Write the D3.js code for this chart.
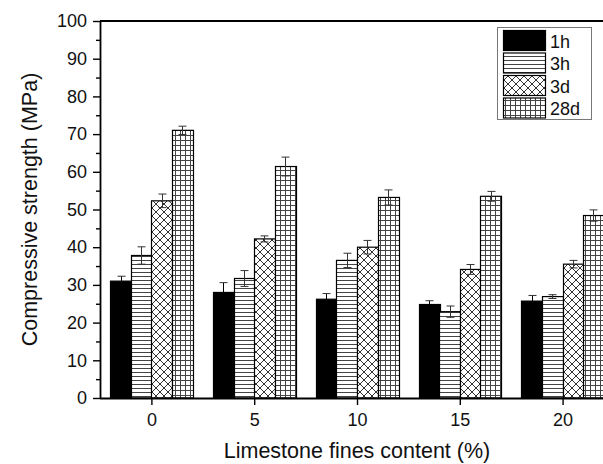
<!DOCTYPE html>
<html><head><meta charset="utf-8">
<script src="https://cdn.jsdelivr.net/npm/d3@7"></script>
<style>
html,body{margin:0;padding:0;background:#fff;}
svg{display:block;font-family:"Liberation Sans",Arial,sans-serif;}
</style></head>
<body>
<svg id="c" width="603" height="464"></svg>
<script>
const categories = [0, 5, 10, 15, 20];
const series = ["1h", "3h", "3d", "28d"];
const values1h  = [31.0, 28.0, 26.2, 24.8, 25.7];
const values3h  = [37.8, 31.7, 36.5, 22.9, 26.9];
const values3d  = [52.3, 42.2, 40.0, 34.1, 35.5];
const values28d = [71.0, 61.4, 53.2, 53.5, 48.4];
const err1h  = [1.3, 2.6, 1.5, 1.0, 1.5];
const err3h  = [2.3, 2.1, 1.9, 1.5, 0.5];
const err3d  = [1.8, 0.8, 1.8, 1.3, 1.0];
const err28d = [1.1, 2.5, 2.0, 1.3, 1.5];
const yTicks = [0,10,20,30,40,50,60,70,80,90,100];
const xTitle = "Limestone fines content (%)";
const yTitle = "Compressive strength (MPa)";

(function(){
const seriesValues = [values1h, values3h, values3d, values28d];
const seriesErr = [err1h, err3h, err3d, err28d];
const fills = ["#000", "url(#pH)", "url(#pX)", "url(#pG)"];

const svg = d3.select("#c");
const mL = 100, mR = 614, mT = 21, mB = 398;

const x = d3.scaleLinear().domain([-2.5, 22.5]).range([mL, mR]);
const y = d3.scaleLinear().domain([0, 100]).range([mB, mT]);
const unit = x(1) - x(0);
const sub = d3.scaleBand().domain(series).range([-2 * unit, 2 * unit]).padding(0);

// patterns
const defs = svg.append("defs");
const pH = defs.append("pattern").attr("id","pH").attr("patternUnits","userSpaceOnUse")
  .attr("width",4).attr("height",4);
pH.append("rect").attr("width",4).attr("height",4).attr("fill","#fff");
pH.append("line").attr("x1",0).attr("x2",4).attr("y1",0.5).attr("y2",0.5)
  .attr("stroke","#444").attr("stroke-width",1);

const pX = defs.append("pattern").attr("id","pX").attr("patternUnits","userSpaceOnUse")
  .attr("width",8).attr("height",8);
pX.append("rect").attr("width",8).attr("height",8).attr("fill","#fff");
pX.append("path").attr("d","M-1,-1L9,9M9,-1L-1,9")
  .attr("stroke","#333").attr("stroke-width",1).attr("fill","none");

const pG = defs.append("pattern").attr("id","pG").attr("patternUnits","userSpaceOnUse")
  .attr("width",5).attr("height",5);
pG.append("rect").attr("width",5).attr("height",5).attr("fill","#fff");
pG.append("path").attr("d","M0,0.5H5M0.5,0V5")
  .attr("stroke","#444").attr("stroke-width",1).attr("fill","none");

// bars
const g = svg.append("g");
series.forEach((s, si) => {
  const data = categories.map((c, ci) => ({c, v: seriesValues[si][ci], e: seriesErr[si][ci]}));
  g.selectAll(null).data(data).enter().append("rect")
    .attr("x", d => Math.round(x(d.c) + sub(s)) + 0.5)
    .attr("y", d => y(d.v))
    .attr("width", Math.round(sub.bandwidth()))
    .attr("height", d => y(0) - y(d.v))
    .attr("fill", fills[si])
    .attr("stroke", "#000").attr("stroke-width", 1.2);
  const eg = g.selectAll(null).data(data).enter().append("g")
    .attr("transform", d => `translate(${Math.round(x(d.c) + sub(s) + sub.bandwidth()/2) + 0.5},0)`);
  eg.append("line").attr("x1",0).attr("x2",0)
    .attr("y1", d => y(d.v + d.e)).attr("y2", d => y(d.v - d.e))
    .attr("stroke", si === 0 ? "#000" : "#333").attr("stroke-width",1);
  eg.append("line").attr("x1",-4).attr("x2",4)
    .attr("y1", d => y(d.v + d.e)).attr("y2", d => y(d.v + d.e))
    .attr("stroke","#333").attr("stroke-width",1);
  eg.append("line").attr("x1",-4).attr("x2",4)
    .attr("y1", d => y(d.v - d.e)).attr("y2", d => y(d.v - d.e))
    .attr("stroke", si === 0 ? "#000" : "#333").attr("stroke-width",1);
});

// axes
const yAxis = svg.append("g").attr("transform",`translate(${mL},0)`)
  .call(d3.axisLeft(y).tickValues(yTicks).tickSize(7).tickPadding(6).tickFormat(d3.format("d")));
const yMinor = svg.append("g").attr("transform",`translate(${mL},0)`)
  .call(d3.axisLeft(y).tickValues(yTicks.slice(0,-1).map(t => t + 5)).tickSize(4).tickFormat(""));
yMinor.select(".domain").remove();
const xAxis = svg.append("g").attr("transform",`translate(0,${mB})`)
  .call(d3.axisBottom(x).tickValues(categories).tickSize(7).tickPadding(8).tickFormat(d3.format("d")));
[yAxis, xAxis, yMinor].forEach(a => {
  a.selectAll("line").attr("stroke","#000").attr("stroke-width",1.4);
  a.selectAll(".domain").attr("stroke","#000").attr("stroke-width",1.8);
  a.selectAll("text").attr("font-size",18).attr("fill","#111")
    .attr("font-family","'Liberation Sans',Arial,sans-serif");
});
xAxis.select(".domain").attr("d", `M${mL},0.5H${mR}`);
yAxis.select(".domain").attr("d", `M0.5,${mB}V${mT}`);
svg.append("line").attr("x1", mL).attr("x2", mR).attr("y1", mT).attr("y2", mT)
  .attr("stroke","#000").attr("stroke-width",1.8);

// titles
svg.append("text").attr("x", (mL + mR) / 2).attr("y", 458)
  .attr("text-anchor","middle").attr("font-size",21.5).attr("fill","#111").text(xTitle);
svg.append("text").attr("transform",`translate(37,${(mT + mB) / 2}) rotate(-90)`)
  .attr("text-anchor","middle").attr("font-size",21.5).attr("fill","#111").text(yTitle);

// legend
const lg = svg.append("g");
lg.append("rect").attr("x",497.5).attr("y",27.5).attr("width",94).attr("height",92)
  .attr("fill","#fff").attr("stroke","#777").attr("stroke-width",1);
series.forEach((s, i) => {
  const yy = 30.5 + i * 22.5;
  lg.append("rect").attr("x",503.5).attr("y",yy).attr("width",42).attr("height",20)
    .attr("fill",fills[i]).attr("stroke","#000").attr("stroke-width",1.2);
  lg.append("text").attr("x",550).attr("y",yy + 17).attr("font-size",18).attr("fill","#111").text(s);
});
})();
</script>
</body></html>
